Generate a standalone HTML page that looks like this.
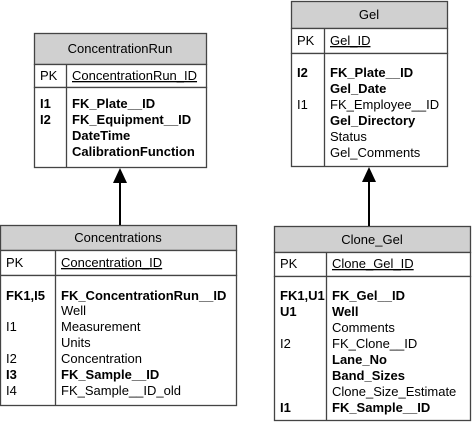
<html><body style="margin:0;background:#fff">
<svg width="472" height="422" xmlns="http://www.w3.org/2000/svg" font-family="Liberation Sans, sans-serif" font-size="13" fill="#000">
<g stroke="#444" stroke-width="1.3">
<rect x="34.5" y="33.5" width="172" height="31" fill="#d0d0d0"/>
<rect x="34.5" y="64.5" width="172" height="23" fill="#fff"/>
<rect x="34.5" y="87.5" width="172" height="80" fill="#fff"/>
<line x1="66.5" y1="64.5" x2="66.5" y2="167.5"/>
<rect x="291.5" y="1.5" width="156" height="27" fill="#d0d0d0"/>
<rect x="291.5" y="28.5" width="156" height="25" fill="#fff"/>
<rect x="291.5" y="53.5" width="156" height="113" fill="#fff"/>
<line x1="324.5" y1="28.5" x2="324.5" y2="166.5"/>
<rect x="0.5" y="225.5" width="236" height="25" fill="#d0d0d0"/>
<rect x="0.5" y="250.5" width="236" height="25" fill="#fff"/>
<rect x="0.5" y="275.5" width="236" height="130" fill="#fff"/>
<line x1="55.5" y1="250.5" x2="55.5" y2="405.5"/>
<rect x="274.5" y="226.5" width="196" height="26" fill="#d0d0d0"/>
<rect x="274.5" y="252.5" width="196" height="24" fill="#fff"/>
<rect x="274.5" y="276.5" width="196" height="144" fill="#fff"/>
<line x1="326.5" y1="252.5" x2="326.5" y2="420.5"/>
<line x1="120" y1="182" x2="120" y2="225" stroke="#000" stroke-width="2"/>
<line x1="369" y1="182" x2="369" y2="226" stroke="#000" stroke-width="2"/>
</g>
<polygon points="120,168 113,183 127,183"/>
<polygon points="369,167 362,182 376,182"/>

<text x="120" y="53" text-anchor="middle">ConcentrationRun</text>
<text x="40" y="80">PK</text><text x="72" y="80" text-decoration="underline">ConcentrationRun_ID</text>
<g font-weight="bold"><text x="40" y="108">I1</text><text x="40" y="124">I2</text>
<text x="72" y="108">FK_Plate__ID</text><text x="72" y="124">FK_Equipment__ID</text><text x="72" y="140">DateTime</text><text x="72" y="156">CalibrationFunction</text></g>

<text x="369" y="19" text-anchor="middle">Gel</text>
<text x="297" y="45">PK</text><text x="330" y="45" text-decoration="underline">Gel_ID</text>
<text x="297" y="77" font-weight="bold">I2</text><text x="297" y="109">I1</text>
<text x="330" y="77" font-weight="bold">FK_Plate__ID</text>
<text x="330" y="93" font-weight="bold">Gel_Date</text>
<text x="330" y="109">FK_Employee__ID</text>
<text x="330" y="125" font-weight="bold">Gel_Directory</text>
<text x="330" y="141">Status</text>
<text x="330" y="157">Gel_Comments</text>

<text x="118" y="242" text-anchor="middle">Concentrations</text>
<text x="6" y="267">PK</text><text x="61" y="267" text-decoration="underline">Concentration_ID</text>
<text x="6" y="300" font-weight="bold">FK1,I5</text><text x="61" y="300" font-weight="bold">FK_ConcentrationRun__ID</text>
<text x="61" y="315">Well</text>
<text x="6" y="331">I1</text><text x="61" y="331">Measurement</text>
<text x="61" y="347">Units</text>
<text x="6" y="363">I2</text><text x="61" y="363">Concentration</text>
<text x="6" y="379" font-weight="bold">I3</text><text x="61" y="379" font-weight="bold">FK_Sample__ID</text>
<text x="6" y="395">I4</text><text x="61" y="395">FK_Sample__ID_old</text>

<text x="372" y="244" text-anchor="middle">Clone_Gel</text>
<text x="280" y="268">PK</text><text x="332" y="268" text-decoration="underline">Clone_Gel_ID</text>
<text x="280" y="300" font-weight="bold">FK1,U1</text><text x="332" y="300" font-weight="bold">FK_Gel__ID</text>
<text x="280" y="316" font-weight="bold">U1</text><text x="332" y="316" font-weight="bold">Well</text>
<text x="332" y="332">Comments</text>
<text x="280" y="348">I2</text><text x="332" y="348">FK_Clone__ID</text>
<text x="332" y="364" font-weight="bold">Lane_No</text>
<text x="332" y="380" font-weight="bold">Band_Sizes</text>
<text x="332" y="396">Clone_Size_Estimate</text>
<text x="280" y="412" font-weight="bold">I1</text><text x="332" y="412" font-weight="bold">FK_Sample__ID</text>
</svg>
</body></html>
